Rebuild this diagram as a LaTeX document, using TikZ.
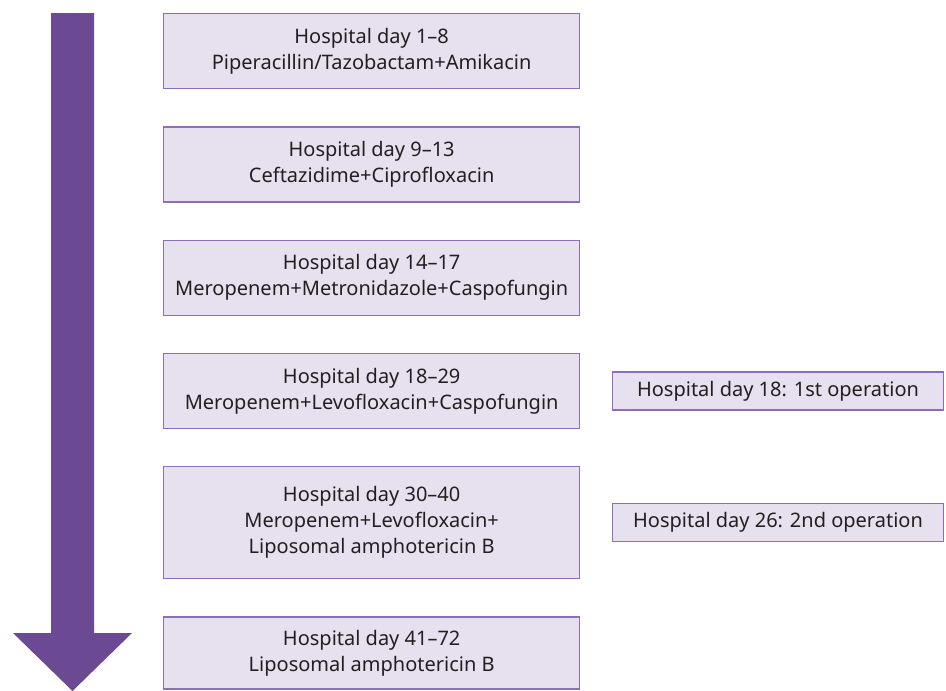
\documentclass[tikz,border=0pt]{standalone}
\usepackage{fontspec}
\setmainfont{Noto Sans}
\usepackage{tikz}
\usetikzlibrary{positioning}
\definecolor{arrowpurple}{RGB}{107,74,147}
\definecolor{boxfill}{RGB}{231,225,239}
\definecolor{boxline}{RGB}{140,110,185}
\definecolor{textgray}{RGB}{35,31,32}

\begin{document}
\begin{tikzpicture}[
    x=0.75pt, y=-0.75pt,
    node distance=27.7pt and 23.5pt,
    daybox/.style={rectangle, draw=boxline, line width=1pt, fill=boxfill,
                minimum height=56.25pt, minimum width=312pt, align=center,
                text=textgray, font=\fontsize{15}{19.5}\selectfont, inner sep=0pt},
    opbox/.style={daybox, minimum height=28.5pt, minimum width=248.5pt}
]
\useasboundingbox (0,0) rectangle (946,690);
% time arrow
\fill[arrowpurple] (51,13) -- (94,13) -- (94,633) -- (132,633) -- (72.5,691)
    -- (13,633) -- (51,633) -- cycle;
% treatment periods
\node[daybox, anchor=north west] (p1) at (163,13) {Hospital day 1--8\\Piperacillin/Tazobactam+Amikacin};
\node[daybox, below=of p1] (p2) {Hospital day 9--13\\Ceftazidime+Ciprofloxacin};
\node[daybox, below=of p2] (p3) {Hospital day 14--17\\Meropenem+Metronidazole+Caspofungin};
\node[daybox, below=of p3] (p4) {Hospital day 18--29\\Meropenem+Levofloxacin+Caspofungin};
\node[daybox, below=of p4, minimum height=84pt] (p5) {Hospital day 30--40\\Meropenem+Levofloxacin+\\Liposomal amphotericin B};
\node[daybox, below=of p5, minimum height=54pt] (p6) {Hospital day 41--72\\Liposomal amphotericin B};
% operations
\node[opbox, right=of p4] (op1) {Hospital day 18: 1st operation};
\node[opbox, right=of p5] (op2) {Hospital day 26: 2nd operation};
\end{tikzpicture}
\end{document}
